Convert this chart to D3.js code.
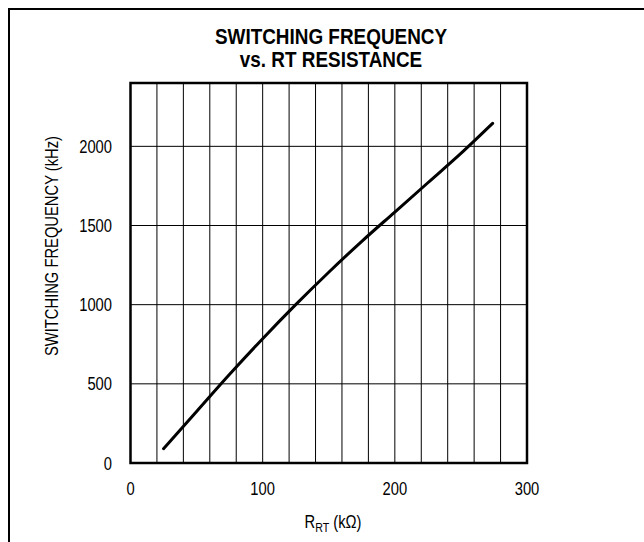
<!DOCTYPE html>
<html><head><meta charset="utf-8">
<script src="https://cdn.jsdelivr.net/npm/d3@7"></script>
<style>body{margin:0;background:#fff}svg{display:block}</style>
</head><body>
<svg id="c" width="644" height="542"></svg>
<script>
const resistance = [25, 50, 75, 100, 125, 150, 175, 200, 225, 250, 274];
const frequency  = [90, 325, 560, 785, 1000, 1205, 1400, 1585, 1770, 1955, 2145];
const xTicks = [0, 100, 200, 300];
const yTicks = [0, 500, 1000, 1500, 2000];
const xGrid = d3.range(0, 301, 20);
const yGrid = [500, 1000, 1500, 2000];
const titleLines = ["SWITCHING FREQUENCY", "vs. RT RESISTANCE"];

const FONT = "'Liberation Sans', Arial, sans-serif";
const NARROW = 0.82;
const svg = d3.select("#c");
const m = {l: 130.5, r: 527, t: 83, b: 463};
const x = d3.scaleLinear().domain([0, 300]).range([m.l, m.r]);
const y = d3.scaleLinear().domain([0, 2400]).range([m.b, m.t]);

function label(px, py, anchor, size, weight, sx, content, rot) {
  const gg = svg.append("g").attr("transform", `translate(${px},${py})` + (rot ? ` rotate(${rot})` : "") + ` scale(${sx},1)`);
  const t = gg.append("text").attr("text-anchor", anchor).attr("font-family", FONT)
    .attr("font-size", size).attr("font-weight", weight);
  if (typeof content === "function") content(t); else t.text(content);
  return t;
}

svg.append("rect").attr("x", 9).attr("y", 9).attr("width", 700).attr("height", 600)
  .attr("fill", "none").attr("stroke", "#000").attr("stroke-width", 2);

const g = svg.append("g");
g.selectAll("line.vx").data(xGrid).join("line").attr("class","vx")
  .attr("x1", d => x(d)).attr("x2", d => x(d)).attr("y1", m.t).attr("y2", m.b)
  .attr("stroke", "#000").attr("stroke-width", 1);
g.selectAll("line.hy").data(yGrid).join("line").attr("class","hy")
  .attr("x1", m.l).attr("x2", m.r).attr("y1", d => y(d)).attr("y2", d => y(d))
  .attr("stroke", "#000").attr("stroke-width", 1);
g.append("rect").attr("x", m.l).attr("y", m.t).attr("width", m.r - m.l).attr("height", m.b - m.t)
  .attr("fill", "none").attr("stroke", "#000").attr("stroke-width", 2.5);

const pts = resistance.map((r, i) => [r, frequency[i]]);
g.append("path").datum(pts)
  .attr("d", d3.line().x(d => x(d[0])).y(d => y(d[1])).curve(d3.curveMonotoneX))
  .attr("fill", "none").attr("stroke", "#000").attr("stroke-width", 3).attr("stroke-linecap", "round");

// Tick labels
yTicks.forEach(d => label(112, y(d) + 6.5, "end", 18, "normal", NARROW, String(d)));
xTicks.forEach(d => label(x(d), 495, "middle", 18, "normal", NARROW, String(d)));

// Title
titleLines.forEach((d, i) => label(331, 44 + i * 23, "middle", 22, "bold", 0.86, d));

// Axis titles
label(333, 528, "middle", 18, "normal", NARROW, t => {
  t.append("tspan").text("R");
  t.append("tspan").attr("font-size", 13).attr("dy", 4).text("RT");
  t.append("tspan").attr("dy", -4).text(" (kΩ)");
});
label(58, 246, "middle", 18, "normal", NARROW, "SWITCHING FREQUENCY (kHz)", -90);
</script>
</body></html>
